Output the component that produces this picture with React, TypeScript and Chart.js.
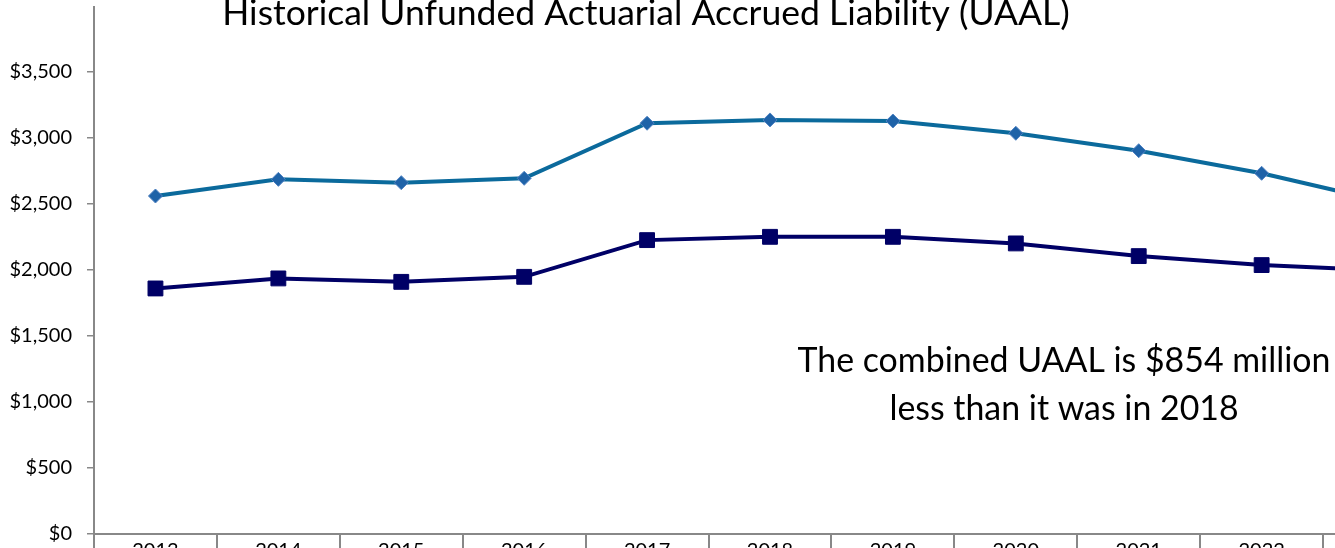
import React, { useEffect, useRef } from 'react';
import { Chart, registerables } from 'chart.js';

Chart.register(...registerables);

const years = ['2013', '2014', '2015', '2016', '2017', '2018', '2019', '2020', '2021', '2022', '2023'];
const seriesUpper = [2559, 2685, 2660, 2693, 3110, 3135, 3127, 3034, 2902, 2731, 2515];
const seriesLower = [1859, 1935, 1909, 1947, 2225, 2250, 2250, 2200, 2104, 2036, 1995];
const yTickValues = [0, 500, 1000, 1500, 2000, 2500, 3000, 3500];
const titleText = 'Historical Unfunded Actuarial Accrued Liability (UAAL)';
const noteLines = ['The combined UAAL is $854 million', 'less than it was in 2018'];

const FONT = 'Lato, "Open Sans", sans-serif';
const CANVAS_W = 1460;
const CANVAS_H = 620;
const OFFSET_TOP = 20;

const textPlugin = {
  id: 'textOverlay',
  afterDraw(chart: any) {
    const ctx = chart.ctx as CanvasRenderingContext2D;
    ctx.save();
    ctx.fillStyle = '#000000';
    ctx.textAlign = 'center';
    ctx.textBaseline = 'alphabetic';
    const fit = (text: string, target: number) => {
      ctx.font = `100px ${FONT}`;
      return (100 * target) / ctx.measureText(text).width;
    };
    const ts = fit(titleText, 848);
    ctx.font = `${ts}px ${FONT}`;
    ctx.fillText(titleText, 646, 25 + OFFSET_TOP);
    const ns = fit(noteLines[0], 533);
    ctx.font = `${ns}px ${FONT}`;
    ctx.fillText(noteLines[0], 1064, 372 + OFFSET_TOP);
    ctx.fillText(noteLines[1], 1064, 420 + OFFSET_TOP);
    ctx.restore();
  },
};

export default function App() {
  const canvasRef = useRef<HTMLCanvasElement | null>(null);

  useEffect(() => {
    if (!canvasRef.current) return;
    const chart = new Chart(canvasRef.current, {
      type: 'line',
      data: {
        labels: years,
        datasets: [
          {
            label: 'UAAL (upper series)',
            data: seriesUpper,
            borderColor: '#0B6A9C',
            borderWidth: 4,
            backgroundColor: '#1F63A8',
            pointStyle: 'rectRot',
            pointRadius: 7,
            pointBorderColor: '#4F82C2',
            pointBorderWidth: 1,
            pointBackgroundColor: '#1F63A8',
            tension: 0,
          },
          {
            label: 'UAAL (lower series)',
            data: seriesLower,
            borderColor: '#000066',
            borderWidth: 4,
            backgroundColor: '#000066',
            pointStyle: 'rect',
            pointRadius: 10.5,
            pointBorderColor: '#000066',
            pointBorderWidth: 1,
            pointBackgroundColor: '#000066',
            tension: 0,
          },
        ],
      },
      options: {
        animation: false,
        responsive: false,
        devicePixelRatio: 1,
        layout: { padding: { top: 7 + OFFSET_TOP, left: 0, right: 14, bottom: 0 } },
        plugins: {
          legend: { display: false },
          title: { display: false },
          tooltip: { enabled: false },
        },
        scales: {
          x: {
            type: 'category',
            offset: true,
            grid: {
              offset: true,
              drawOnChartArea: false,
              drawTicks: true,
              tickLength: 40,
              color: '#888888',
              lineWidth: 2,
            },
            border: { display: true, color: '#888888', width: 2 },
            ticks: {
              color: '#000000',
              font: { family: FONT, size: 20 },
              padding: -35,
              maxRotation: 0,
              autoSkip: false,
            },
            afterFit(scale: any) {
              scale.height = 66;
            },
          },
          y: {
            type: 'linear',
            min: 0,
            max: 3990,
            grid: {
              drawOnChartArea: false,
              drawTicks: true,
              tickLength: 7,
              color: '#888888',
              lineWidth: 1.5,
            },
            border: { display: true, color: '#888888', width: 2 },
            ticks: {
              color: '#000000',
              font: { family: FONT, size: 20 },
              padding: 15,
              callback: (v: any) => '$' + Number(v).toLocaleString('en-US'),
            },
            afterBuildTicks(scale: any) {
              scale.ticks = yTickValues.map((v) => ({ value: v }));
            },
            afterFit(scale: any) {
              scale.width = 94;
            },
          },
        },
      },
      plugins: [textPlugin],
    });
    return () => chart.destroy();
  }, []);

  return (
    <div
      style={{
        position: 'fixed',
        left: 0,
        top: 0,
        width: '100vw',
        height: '100vh',
        overflow: 'hidden',
        background: '#ffffff',
      }}
    >
      <canvas
        ref={canvasRef}
        width={CANVAS_W}
        height={CANVAS_H}
        style={{ position: 'absolute', left: 0, top: -OFFSET_TOP, width: CANVAS_W, height: CANVAS_H }}
      />
    </div>
  );
}
